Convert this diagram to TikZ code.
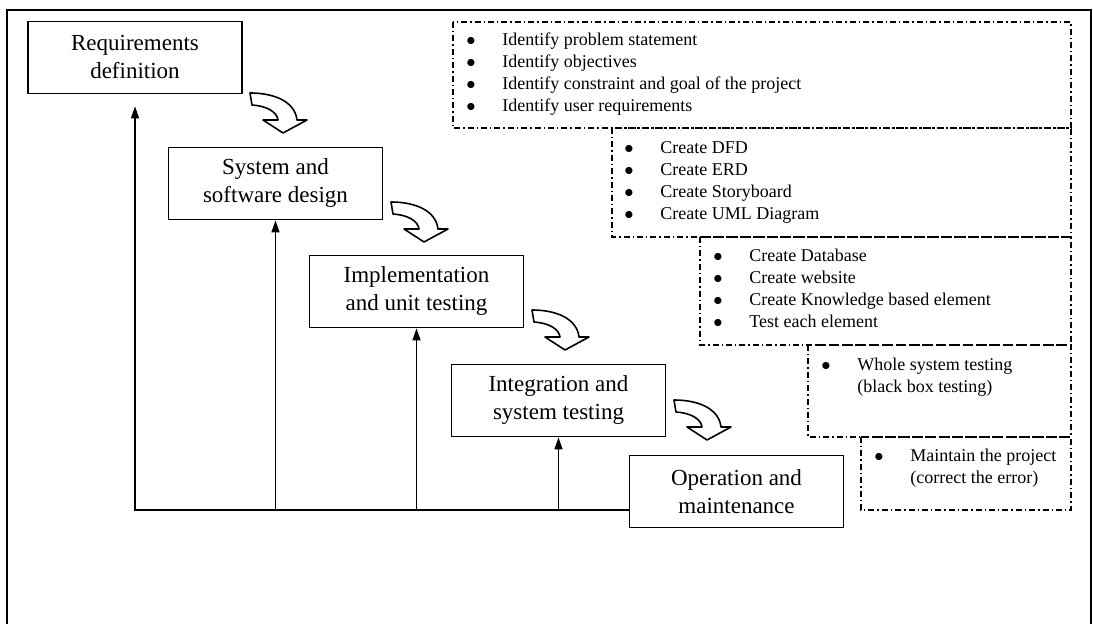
\documentclass[tikz,border=0pt]{standalone}
\usepackage{fontspec}
\setmainfont{Liberation Serif}
\usetikzlibrary{arrows.meta}

\tikzset{
  phase/.style={draw, line width=0.9pt, minimum width=107pt, minimum height=36pt,
    align=center, inner sep=1pt, font=\fontsize{11.5}{14}\selectfont},
  taskbox/.style={line width=0.7pt, dash pattern=on 3pt off 1.5pt on 0.7pt off 1.5pt},
  tasklist/.style={anchor=base west, inner sep=0pt, font=\fontsize{9}{11}\selectfont},
  feedline/.style={line width=0.7pt},
  feedarrow/.style={line width=0.7pt, -{Triangle[length=6pt,width=4pt]}},
  bendarrow/.pic={
    \draw[line width=0.8pt, fill=white, line join=round]
      (0,0) -- (2,12) .. controls (17,13) and (27,19) .. (28,27) -- (13,27) -- (33,40)
      -- (57,27) -- (47,27) .. controls (45,9) and (25,0) .. cycle;
  }
}
\newcommand{\bul}{\makebox[18pt][l]{$\bullet$}}
\newcommand{\nobul}{\hspace*{18pt}}

\begin{document}
\begin{tikzpicture}[x=0.5pt, y=-0.5pt]
    \useasboundingbox (0,0) rectangle (1093,624);

    % Frame
    \draw[line width=0.8pt] (7,624) -- (7,10) -- (1091,10) -- (1091,624);

    % Phases
    \node[phase] (req) at (135,57.5) {Requirements\\definition};
    \node[phase] (sys) at (275.5,183.5) {System and\\software design};
    \node[phase] (impl) at (416.5,291.5) {Implementation\\and unit testing};
    \node[phase] (integ) at (558.5,400.5) {Integration and\\system testing};
    \node[phase] (oper) at (736.5,491.5) {Operation and\\maintenance};

    % Flow arrows
    \pic at (250,93) {bendarrow};
    \pic at (391,202) {bendarrow};
    \pic at (532,310) {bendarrow};
    \pic at (674,400) {bendarrow};

    % Feedback
    \coordinate (fb) at (134,510);
    \draw[feedline] (fb) -- (fb -| oper.west);
    \draw[feedarrow, shorten >=6pt] (req.south |- fb) -- (req.south);
    \draw[feedarrow] (sys.south |- fb) -- (sys.south);
    \draw[feedarrow] (impl.south |- fb) -- (impl.south);
    \draw[feedarrow] (integ.south |- fb) -- (integ.south);

    % Tasks
    \draw[taskbox] (453,22) rectangle (1071,128);
    \draw[taskbox] (612,128) rectangle (1071,237);
    \draw[taskbox] (700,237) rectangle (1071,345);
    \draw[taskbox] (808,345) rectangle (1071,437);
    \draw[taskbox] (861,437) rectangle (1071,510);

    \node[tasklist] (reqtasks) at (466,46) {\begin{tabular}[t]{@{}l@{}}
      \bul Identify problem statement\\
      \bul Identify objectives\\
      \bul Identify constraint and goal of the project\\
      \bul Identify user requirements
    \end{tabular}};
    \node[tasklist] (systasks) at (624,154) {\begin{tabular}[t]{@{}l@{}}
      \bul Create DFD\\
      \bul Create ERD\\
      \bul Create Storyboard\\
      \bul Create UML Diagram
    \end{tabular}};
    \node[tasklist] (impltasks) at (713,262) {\begin{tabular}[t]{@{}l@{}}
      \bul Create Database\\
      \bul Create website\\
      \bul Create Knowledge based element\\
      \bul Test each element
    \end{tabular}};
    \node[tasklist] (integtasks) at (821,371) {\begin{tabular}[t]{@{}l@{}}
      \bul Whole system testing\\
      \nobul (black box testing)
    \end{tabular}};
    \node[tasklist] (opertasks) at (874,462) {\begin{tabular}[t]{@{}l@{}}
      \bul Maintain the project\\
      \nobul (correct the error)
    \end{tabular}};
\end{tikzpicture}
\end{document}
